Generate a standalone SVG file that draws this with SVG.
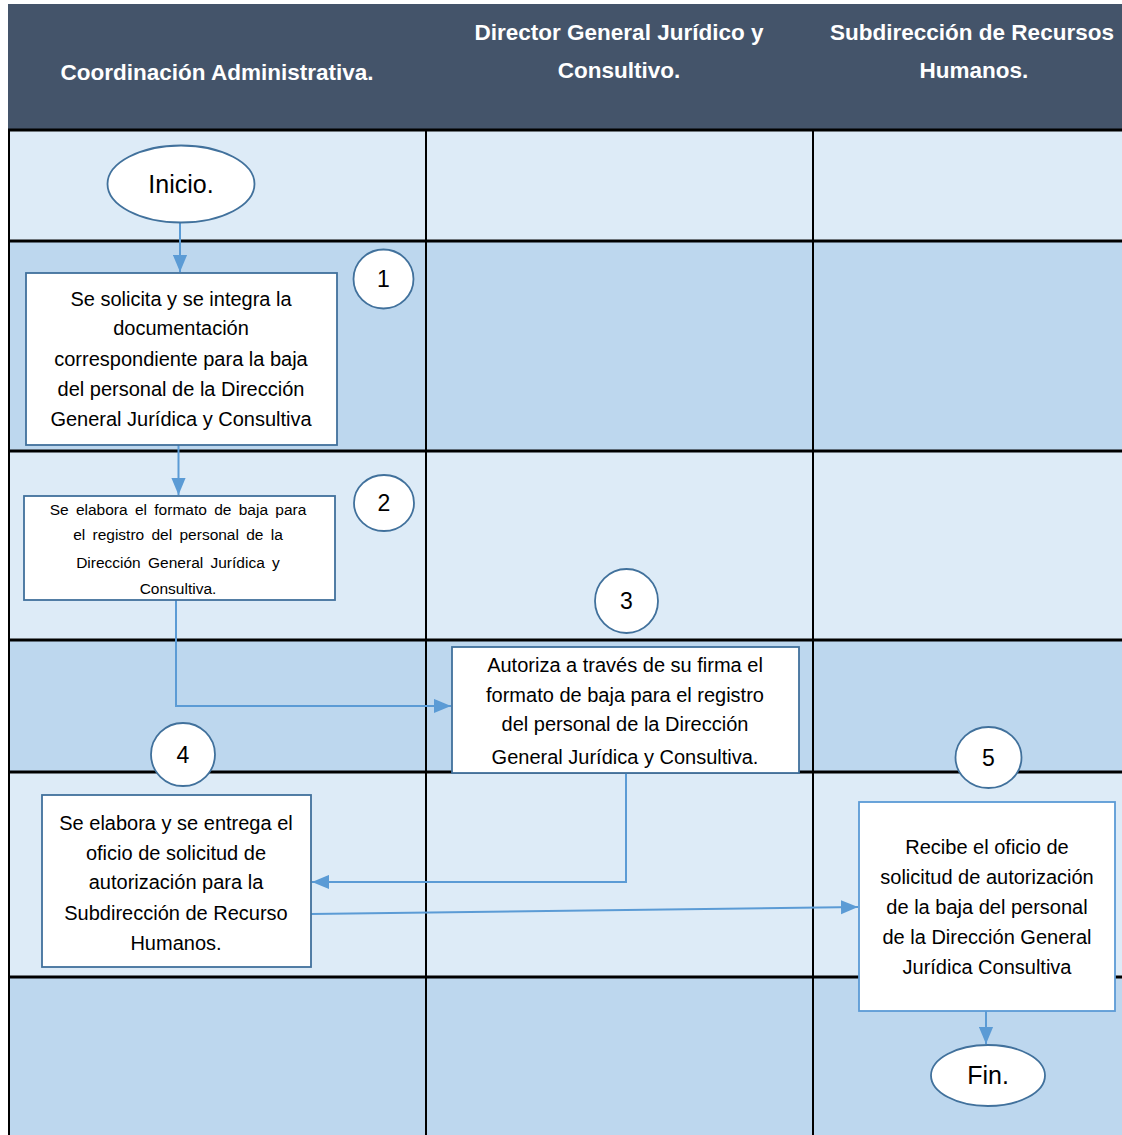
<svg xmlns="http://www.w3.org/2000/svg" width="1122" height="1135" viewBox="0 0 1122 1135">
<defs>
<style>
.hdr{font-family:"Liberation Sans",Arial,sans-serif;font-weight:bold;font-size:22.5px;fill:#ffffff;text-anchor:middle}
.t{font-family:"Liberation Sans",Arial,sans-serif;font-size:20px;fill:#000;text-anchor:middle}
.ts{font-family:"Liberation Sans",Arial,sans-serif;font-size:15.5px;fill:#000;text-anchor:middle;word-spacing:3px}
.num{font-family:"Liberation Sans",Arial,sans-serif;font-size:23px;fill:#000;text-anchor:middle}
.lbl{font-family:"Liberation Sans",Arial,sans-serif;font-size:25px;fill:#000;text-anchor:middle}
.box{fill:#ffffff;stroke:#41719C;stroke-width:1.8}
.box2{fill:#ffffff;stroke:#5B9BD5;stroke-width:1.8}
.term{fill:#ffffff;stroke:#41719C;stroke-width:1.8}
.light{fill:#DDEBF7}
.mid{fill:#BDD7EE}
.grid{stroke:#000;fill:none}
.conn{stroke:#5B9BD5;stroke-width:2;fill:none}
</style>
<marker id="arr" viewBox="0 0 12 10" refX="12" refY="5" markerWidth="8.5" markerHeight="7.5" orient="auto" markerUnits="strokeWidth">
<path d="M0,0 L12,5 L0,10 z" fill="#5B9BD5"/>
</marker>
</defs>
<rect x="0" y="0" width="1122" height="1135" fill="#ffffff"/>
<g id="lanes">
<rect x="8" y="4" width="1114" height="126" fill="#44546A"/>
<rect class="light" x="8" y="130" width="1114" height="111"/>
<rect class="mid" x="8" y="241" width="1114" height="210"/>
<rect class="light" x="8" y="451" width="1114" height="189"/>
<rect class="mid" x="8" y="640" width="1114" height="132"/>
<rect class="light" x="8" y="772" width="1114" height="205"/>
<rect class="mid" x="8" y="977" width="1114" height="158"/>
<g class="grid">
<line x1="8" y1="130" x2="1122" y2="130" stroke-width="3"/>
<line x1="8" y1="241" x2="1122" y2="241" stroke-width="3"/>
<line x1="8" y1="451" x2="1122" y2="451" stroke-width="3"/>
<line x1="8" y1="640" x2="1122" y2="640" stroke-width="3"/>
<line x1="8" y1="772" x2="1122" y2="772" stroke-width="3"/>
<line x1="8" y1="977" x2="1122" y2="977" stroke-width="3"/>
<line x1="9" y1="130" x2="9" y2="1135" stroke-width="2"/>
<line x1="426" y1="130" x2="426" y2="1135" stroke-width="2"/>
<line x1="813" y1="130" x2="813" y2="1135" stroke-width="2"/>
</g>
<text class="hdr" x="217" y="80">Coordinación Administrativa.</text>
<text class="hdr" x="619" y="40">Director General Jurídico y</text>
<text class="hdr" x="619" y="78">Consultivo.</text>
<text class="hdr" x="972" y="40">Subdirección de Recursos</text>
<text class="hdr" x="974" y="78">Humanos.</text>
</g>
<g id="connectors">
<line class="conn" x1="180" y1="222" x2="180" y2="272" marker-end="url(#arr)"/>
<line class="conn" x1="178.5" y1="445" x2="178.5" y2="495" marker-end="url(#arr)"/>
<polyline class="conn" points="176,590 176,706 451,706" marker-end="url(#arr)"/>
<polyline class="conn" points="626,773 626,882 312,882" marker-end="url(#arr)"/>
<line class="conn" x1="311" y1="914" x2="858" y2="907" marker-end="url(#arr)"/>
<line class="conn" x1="986" y1="1011" x2="986" y2="1044" marker-end="url(#arr)"/>
</g>
<g id="inicio">
<ellipse class="term" cx="181" cy="184" rx="73.5" ry="38.5"/>
<text class="lbl" x="181" y="193">Inicio.</text>
</g>
<g id="step1">
<rect class="box" x="26" y="273" width="311" height="172"/>
<text class="t" x="181" y="306">Se solicita y se integra la</text>
<text class="t" x="181" y="335">documentación</text>
<text class="t" x="181" y="366">correspondiente para la baja</text>
<text class="t" x="181" y="396">del personal de la Dirección</text>
<text class="t" x="181" y="426">General Jurídica y Consultiva</text>
</g>
<g id="num1">
<ellipse class="term" cx="383.5" cy="279" rx="30" ry="29.5"/>
<text class="num" x="383.5" y="287">1</text>
</g>
<g id="step2">
<rect class="box" x="24" y="496" width="311" height="104"/>
<text class="ts" x="178" y="515">Se elabora el formato de baja para</text>
<text class="ts" x="178" y="540">el registro del personal de la</text>
<text class="ts" x="178" y="568">Dirección General Jurídica y</text>
<text class="ts" x="178" y="594">Consultiva.</text>
</g>
<g id="num2">
<ellipse class="term" cx="384" cy="503" rx="30" ry="28"/>
<text class="num" x="384" y="511">2</text>
</g>
<g id="num3">
<ellipse class="term" cx="626.5" cy="601" rx="31.5" ry="32"/>
<text class="num" x="626.5" y="609">3</text>
</g>
<g id="step3">
<rect class="box" x="452" y="647" width="347" height="126"/>
<text class="t" x="625" y="672">Autoriza a través de su firma el</text>
<text class="t" x="625" y="702">formato de baja para el registro</text>
<text class="t" x="625" y="731">del personal de la Dirección</text>
<text class="t" x="625" y="764">General Jurídica y Consultiva.</text>
</g>
<g id="num4">
<ellipse class="term" cx="183" cy="754.5" rx="32" ry="31.5"/>
<text class="num" x="183" y="763">4</text>
</g>
<g id="step4">
<rect class="box" x="42" y="795" width="269" height="172"/>
<text class="t" x="176" y="830">Se elabora y se entrega el</text>
<text class="t" x="176" y="860">oficio de solicitud de</text>
<text class="t" x="176" y="889">autorización para la</text>
<text class="t" x="176" y="920">Subdirección de Recurso</text>
<text class="t" x="176" y="950">Humanos.</text>
</g>
<g id="num5">
<ellipse class="term" cx="988.5" cy="757.5" rx="33" ry="30.5"/>
<text class="num" x="988.5" y="766">5</text>
</g>
<g id="step5">
<rect class="box2" x="859" y="802" width="256" height="209"/>
<text class="t" x="987" y="854">Recibe el oficio de</text>
<text class="t" x="987" y="884">solicitud de autorización</text>
<text class="t" x="987" y="914">de la baja del personal</text>
<text class="t" x="987" y="944">de la Dirección General</text>
<text class="t" x="987" y="974">Jurídica  Consultiva</text>
</g>
<g id="fin">
<ellipse class="term" cx="988" cy="1075.5" rx="57" ry="30.5"/>
<text class="lbl" x="988" y="1084">Fin.</text>
</g>
</svg>
